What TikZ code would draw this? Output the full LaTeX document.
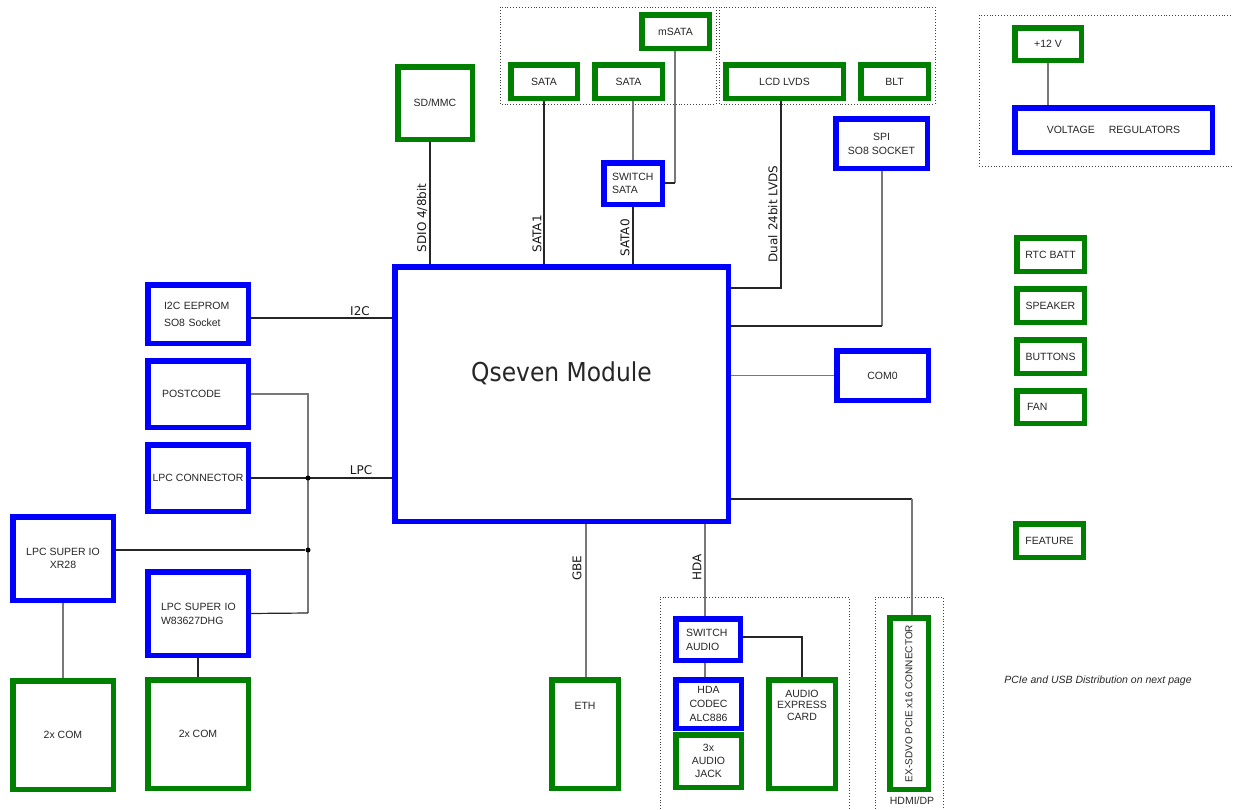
\documentclass[tikz,border=0pt]{standalone}
\usepackage{fontspec}
\setmainfont{Liberation Sans}
\newfontfamily\labfont{DejaVu Sans}
\usetikzlibrary{calc}
\definecolor{bgreen}{RGB}{0,128,0}
\definecolor{bblue}{RGB}{0,0,255}
\definecolor{lgray}{RGB}{120,120,120}
\pgfdeclarelayer{bg}
\pgfsetlayers{bg,main}
\begin{document}
\begin{tikzpicture}[x=1pt,y=-1pt,
 box/.style={draw, line width=5.5pt, inner sep=0pt, outer sep=0pt, align=center,
   font=\fontsize{10.5}{13.5}\selectfont, text=black!85, fill=white},
 gbox/.style={box, draw=bgreen},
 bbox/.style={box, draw=bblue},
 wire/.style={line width=1.2pt, black!85},
 gwire/.style={line width=1.4pt, lgray},
 lab/.style={font=\labfont\fontsize{12}{14}\selectfont, inner sep=0pt, text=black!90},
 group/.style={draw=black!75, dotted, line width=0.9pt},
 jdot/.style={circle, fill=black, inner sep=0pt, minimum size=5pt},
]
\useasboundingbox (0,0) rectangle (1233,809);

% ---- boxes ----
\node[gbox, minimum width=74.5pt, minimum height=72.5pt] (sdmmc) at (435,103) {SD/MMC};
\node[gbox, minimum width=66.5pt, minimum height=33.5pt] (sata1) at (544,81.5) {SATA};
\node[gbox, minimum width=67.5pt, minimum height=33.5pt] (sata2) at (628.5,81.5) {SATA};
\node[gbox, minimum width=67.5pt, minimum height=33.5pt] (msata) at (675.5,31.5) {mSATA};
\node[bbox, minimum width=58.5pt, minimum height=41.5pt, text width=42pt, align=left] (swsata) at (633,183.5) {SWITCH\\SATA};
\node[gbox, minimum width=117.5pt, minimum height=33.5pt] (lcd) at (784.5,81.5) {LCD LVDS};
\node[gbox, minimum width=67.5pt, minimum height=33.5pt] (blt) at (894.5,81.5) {BLT};
\node[bbox, minimum width=91.5pt, minimum height=49.5pt, font=\fontsize{10.5}{14}\selectfont] (spi) at (881.5,143.5) {SPI\\ SO8 SOCKET};
\node[gbox, minimum width=66.5pt, minimum height=32.5pt] (v12) at (1048,44) {+12 V};
\node[bbox, minimum width=197.5pt, minimum height=44.5pt] (vreg) at (1113.5,130) {VOLTAGE\hspace{14pt}REGULATORS};

\node[bbox, minimum width=333.5pt, minimum height=254.5pt] (q) at (561.5,394)
  {\raisebox{13pt}[0pt][0pt]{\scalebox{0.9}[1]{\labfont\fontsize{26}{30}\selectfont Qseven Module}}};

\node[bbox, minimum width=100.5pt, minimum height=58.5pt, text width=68pt, align=left, font=\fontsize{10.5}{17}\selectfont] (i2c) at (198,314) {I2C EEPROM\\SO8 Socket};
\node[bbox, minimum width=100.5pt, minimum height=66.5pt, text width=72pt, align=left] (post) at (198,394) {POSTCODE};
\node[bbox, minimum width=100.5pt, minimum height=66.5pt] (lpcc) at (198,478) {LPC CONNECTOR};
\node[bbox, minimum width=100.5pt, minimum height=83.5pt, font=\fontsize{10.5}{13}\selectfont] (xr) at (63,558.5) {LPC SUPER IO\\XR28};
\node[bbox, minimum width=100.5pt, minimum height=83.5pt, text width=78pt, align=left, font=\fontsize{10.5}{14}\selectfont] (w83) at (198,613.5) {\hspace*{2pt}LPC SUPER IO\\\hspace*{2pt}W83627DHG};
\node[gbox, minimum width=100.5pt, minimum height=108.5pt] (com1) at (63,735) {2x COM};
\node[gbox, minimum width=100.5pt, minimum height=108.5pt] (com2) at (198,734) {2x COM};

\node[gbox, minimum width=66.5pt, minimum height=108.5pt] (eth) at (585,734) {\raisebox{25pt}[0pt][0pt]{ETH}};
\node[bbox, minimum width=64.5pt, minimum height=41.5pt, text width=44pt, align=left, font=\fontsize{10.5}{14}\selectfont] (swaudio) at (708,639.5) {SWITCH\\AUDIO};
\node[bbox, minimum width=65.5pt, minimum height=48.5pt, font=\fontsize{10.5}{14}\selectfont] (hda) at (708.5,704) {HDA\\CODEC\\ALC886};
\node[gbox, minimum width=65.5pt, minimum height=52.5pt, font=\fontsize{10.5}{13}\selectfont] (jack) at (708.5,761) {3x\\AUDIO\\JACK};
\node[gbox, minimum width=66.5pt, minimum height=108.5pt, font=\fontsize{10.5}{13.5}\selectfont] (audexp) at (802,734) {\raisebox{14pt}[0pt][0pt]{\shortstack{AUDIO\\[1pt]EXPRESS\\[1pt]CARD}}};
\node[gbox, minimum width=38.5pt, minimum height=171.5pt, font=\fontsize{10}{12}\selectfont] (exsdvo) at (909,703.5) {\rotatebox{90}{EX-SDVO PCIE x16 CONNECTOR}};
\node[font=\fontsize{10.5}{12}\selectfont, inner sep=0pt, text=black!85] (hdmi) at (912,801) {HDMI/DP};

\node[bbox, minimum width=91.5pt, minimum height=49.5pt] (com0) at (882.5,375.5) {COM0};

\node[gbox, minimum width=67.5pt, minimum height=33.5pt] (rtc) at (1050.5,254.5) {RTC BATT};
\node[gbox, minimum width=67.5pt, minimum height=33.5pt] (spk) at (1050.5,305.5) {SPEAKER};
\node[gbox, minimum width=67.5pt, minimum height=33.5pt] (btn) at (1050.5,356.5) {BUTTONS};
\node[gbox, minimum width=67.5pt, minimum height=32.5pt, text width=47pt, align=left] (fan) at (1050.5,407) {FAN};
\node[gbox, minimum width=67.5pt, minimum height=33.5pt] (feat) at (1049.5,540.5) {FEATURE};

\node[font=\itshape\fontsize{10.5}{12}\selectfont, inner sep=0pt, text=black!85] (note) at (1098,681) {PCIe and USB Distribution on next page};

% ---- connector labels ----
\node[lab, rotate=90] (lsdio) at (422,218) {SDIO 4/8bit};
\node[lab, rotate=90] (lsata1) at (537,234) {SATA1};
\node[lab, rotate=90] (lsata0) at (625,238) {SATA0};
\node[lab, rotate=90] (llvds) at (773,214) {Dual 24bit LVDS};
\node[lab] (li2c) at (360,311) {I2C};
\node[lab] (llpc) at (361,470) {LPC};
\node[lab, rotate=90] (lgbe) at (577,568) {GBE};
\node[lab, rotate=90] (lhda) at (697,567) {HDA};

% ---- helper coordinates ----
\coordinate (x430) at (430,0);
\coordinate (x544) at (544,0);
\coordinate (x633) at (633,0);
\coordinate (x586) at (586,0);
\coordinate (x705) at (705,0);
\coordinate (y318) at (0,318);
\coordinate (mbend) at (675,183);
\coordinate (lvdsbend) at (781,288);
\coordinate (spibend) at (882,326);
\coordinate (exbend) at (912,499);
\coordinate (aubend) at (802,637);
\coordinate (busTop) at (308,394);
\coordinate (busBot) at (308,613);
\node[jdot] (j1) at (308,478) {};
\node[jdot] (j2) at (308,550) {};

% ---- wires and groups (behind boxes) ----
\begin{pgfonlayer}{bg}
\draw[group] (500,7) rectangle (716,104);
\draw[group] (719,7) rectangle (935,104);
\draw[group] (1234,15) -| (979,166) -- (1234,166);
\draw[group] (660,812) |- (849,597) -- (849,812);
\draw[group] (875,812) |- (943,597) -- (943,812);

\draw[wire] (sdmmc.south -| x430) -- (q.north -| x430);
\draw[wire] (sata1.south -| x544) -- (q.north -| x544);
\draw[gwire] (sata2.south -| x633) -- (swsata.north -| x633);
\draw[wire] (swsata.south) -- (q.north -| swsata.south);
\draw[gwire] (msata.south -| mbend) -- (mbend);
\draw[wire] (mbend) -- (swsata.east |- mbend);
\draw[wire] (lcd.south -| lvdsbend) -- (lvdsbend) -- (lvdsbend -| q.east);
\draw[gwire] (spi.south -| spibend) -- (spibend);
\draw[wire] (spibend) -- (spibend -| q.east);
\draw[gwire] (com0.west) -- (com0.west -| q.east);
\draw[wire] (q.east |- exbend) -- (exbend);
\draw[gwire] (exbend) -- (exsdvo.north -| exbend);
\draw[gwire] (q.south -| x586) -- (eth.north -| x586);
\draw[gwire] (q.south -| x705) -- (swaudio.north -| x705);
\draw[wire] (swaudio.east |- aubend) -- (aubend) -- (audexp.north);
\draw[gwire] (swaudio.south -| x705) -- (hda.north -| x705);
\draw[wire] (i2c.east |- y318) -- (q.west |- y318);
\draw[gwire] (post.east) -- (busTop) -- (busBot);
\draw[wire] (lpcc.east) -- (lpcc.east -| q.west);
\draw[wire] (xr.east |- j2) -- (j2);
\draw[wire] (w83.east) -- (busBot);
\draw[gwire] (xr.south) -- (com1.north);
\draw[wire] (w83.south) -- (com2.north);
\draw[gwire] (v12.south) -- (vreg.north -| v12.south);
\end{pgfonlayer}
\end{tikzpicture}
\end{document}
